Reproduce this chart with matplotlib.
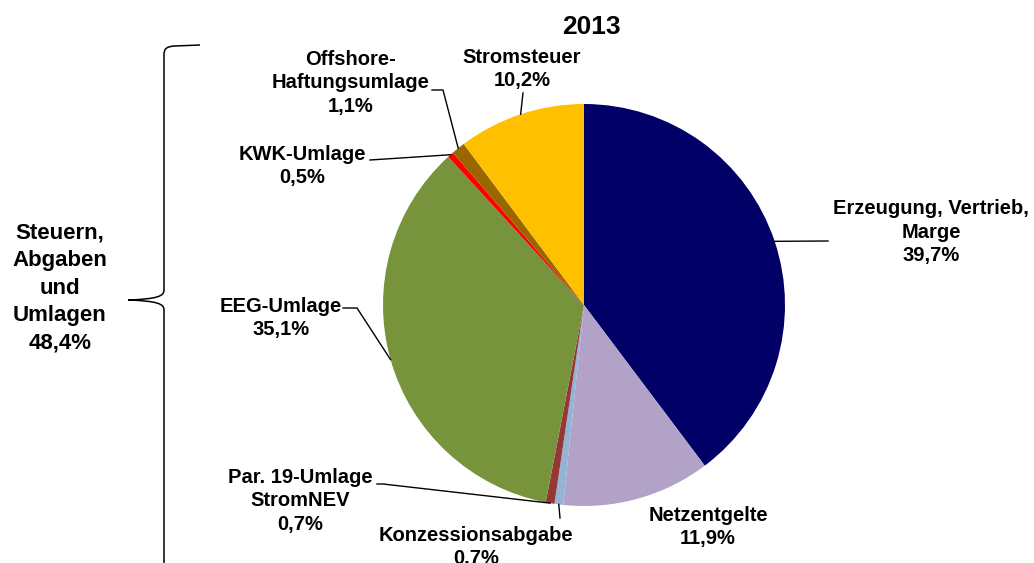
import numpy as np
import matplotlib.pyplot as plt
from matplotlib.path import Path
from matplotlib.patches import PathPatch

plt.rcParams['font.family'] = ['Liberation Sans', 'DejaVu Sans']

title = "2013"
names = ["Erzeugung, Vertrieb,\nMarge", "Netzentgelte", "Konzessionsabgabe",
         "Par. 19-Umlage\nStromNEV", "EEG-Umlage", "KWK-Umlage",
         "Offshore-\nHaftungsumlage", "Stromsteuer"]
shares = [39.7, 11.9, 0.7, 0.7, 35.1, 0.5, 1.1, 10.2]
pct_text = ["39,7%", "11,9%", "0.7%", "0,7%", "35,1%", "0,5%", "1,1%", "10,2%"]
colors = ["#000066", "#B3A2C7", "#95B3D7", "#953735", "#77933C", "#FF0000",
          "#996600", "#FFC000"]
group_text = "Steuern,\nAbgaben\nund\nUmlagen\n48,4%"

W, H = 1034, 563
fig = plt.figure(figsize=(W / 100, H / 100), dpi=100)
ax = fig.add_axes([0, 0, 1, 1])

def Y(y):
    # image row -> data y
    return H - y

cx, cy, r = 584, Y(305), 201
wedges, _ = ax.pie(shares, colors=colors, startangle=90, counterclock=False,
                   center=(cx, cy), radius=r, frame=True,
                   wedgeprops=dict(linewidth=0))
ax.set_xlim(0, W)
ax.set_ylim(0, H)
ax.set_aspect('equal')
ax.axis('off')

# label layout: text centre and leader path (from text side); None = no leader
layout = [
    ((931, 232), [(828, 241)]),
    ((708, 527), None),
    ((476, 547), [(560, 518)]),
    ((300, 501), [(377, 484), (383, 484)]),
    ((281, 318), [(343, 308), (357, 308)]),
    ((302, 166), [(370, 160)]),
    ((351, 83), [(432, 90), (443, 90)]),
    ((522, 69), [(523, 93)]),
]

for w, name, pct, (pos, leader) in zip(wedges, names, pct_text, layout):
    ax.text(pos[0], Y(pos[1]), f"{name}\n{pct}", ha='center', va='center',
            fontsize=14.5, fontweight='bold', linespacing=1.32)
    if leader is None:
        continue
    mid = np.deg2rad((w.theta1 + w.theta2) / 2)
    ex, ey = cx + r * np.cos(mid), cy + r * np.sin(mid)
    xs = [p[0] for p in leader] + [ex]
    ys = [Y(p[1]) for p in leader] + [ey]
    ax.plot(xs, ys, color='black', lw=1)

ax.text(591, Y(27), title, ha='center', va='center', fontsize=19,
        fontweight='bold')

# curly brace on the left
verts = [(200, 45), (175, 46), (166, 46.5), (164, 49), (164, 55), (164, 290),
         (164, 296), (158, 299), (128, 300), (158, 301), (164, 304), (164, 310),
         (164, 575)]
codes = [Path.MOVETO, Path.LINETO, Path.CURVE4, Path.CURVE4, Path.CURVE4,
         Path.LINETO, Path.CURVE4, Path.CURVE4, Path.CURVE4, Path.CURVE4,
         Path.CURVE4, Path.CURVE4, Path.LINETO]
brace = Path([(x, Y(y)) for x, y in verts], codes)
ax.add_patch(PathPatch(brace, facecolor='none', edgecolor='black', lw=1.1))

ax.text(60, Y(288), group_text, ha='center', va='center', fontsize=16,
        fontweight='bold', linespacing=1.42)

fig.savefig("out.png", dpi=100)
